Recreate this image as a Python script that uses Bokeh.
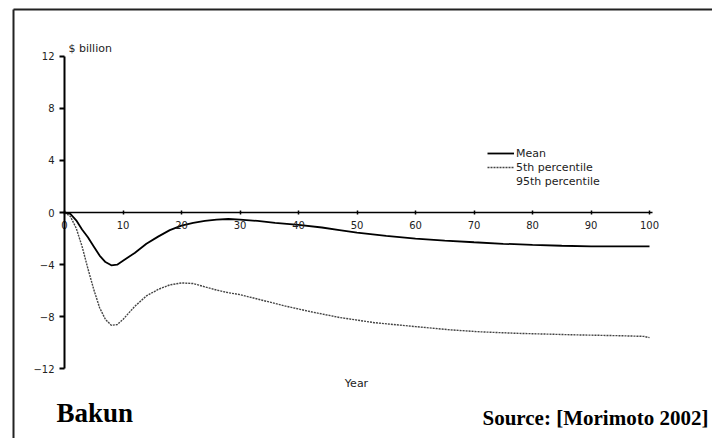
from bokeh.plotting import figure
from bokeh.models import (LinearAxis, FixedTicker, Range1d, Legend, LegendItem)
from bokeh.core.properties import value
from bokeh.embed import file_html
from bokeh.resources import INLINE

# ---- data ----
mean_years = [0, 1, 2, 3, 4, 5, 6, 7, 8, 9, 10, 12, 14, 16, 18, 20, 22, 24, 26, 28,
              30, 33, 36, 40, 44, 47, 50, 55, 60, 65, 70, 75, 80, 85, 90, 95, 100]
mean_vals = [0, -0.1, -0.6, -1.3, -1.9, -2.6, -3.3, -3.8, -4.05, -4.0, -3.7, -3.1,
             -2.4, -1.85, -1.35, -1.0, -0.8, -0.65, -0.55, -0.5, -0.55, -0.65, -0.8,
             -0.95, -1.15, -1.35, -1.55, -1.8, -2.0, -2.15, -2.28, -2.4, -2.48,
             -2.55, -2.6, -2.6, -2.6]
p5_years = [0, 1, 2, 3, 4, 5, 6, 7, 8, 9, 10, 11, 12, 14, 16, 18, 20, 22, 24, 26, 28,
            30, 34, 38, 42, 47, 53, 60, 66, 71, 77, 87, 95, 99, 100]
p5_vals = [0, -0.3, -1.2, -2.6, -4.3, -5.9, -7.3, -8.2, -8.65, -8.6, -8.2, -7.7,
           -7.2, -6.4, -5.9, -5.55, -5.4, -5.45, -5.7, -5.95, -6.15, -6.3, -6.75,
           -7.2, -7.6, -8.05, -8.45, -8.75, -9.0, -9.15, -9.26, -9.38, -9.45,
           -9.5, -9.6]
x_ticks = [0, 10, 20, 30, 40, 50, 60, 70, 80, 90, 100]
y_ticks = [-12, -8, -4, 0, 4, 8, 12]
series_labels = ["Mean", "5th percentile", "95th percentile"]

# ---- layout constants (pixel geometry) ----
W, H = 712, 438
PX_X = 5.85      # px per year
PX_Y = 13.04     # px per $bn
X0_PX = 64       # pixel of year 0
Y0_PX = 212      # pixel of value 0

def dx(px):
    return (px - X0_PX) / PX_X

def dy(py):
    return (Y0_PX - py) / PX_Y

p = figure(width=W, height=H, output_backend="svg", toolbar_location=None,
           x_axis_location=None, y_axis_location=None,
           x_range=Range1d(dx(0), dx(W)), y_range=Range1d(dy(H), dy(0)),
           min_border=0)
p.grid.visible = False
p.outline_line_color = None
p.background_fill_color = "white"
p.border_fill_color = "white"

SANS = "DejaVu Sans"
TXT = "#222"

# axes at the origin
yax = LinearAxis(fixed_location=0, ticker=FixedTicker(ticks=y_ticks), bounds=(-12, 12))
yax.axis_line_width = 2
yax.axis_line_color = "black"
yax.major_tick_out = 5
yax.major_tick_in = 0
yax.major_tick_line_width = 2
yax.minor_tick_line_color = None
yax.major_label_standoff = 5
yax.major_label_text_font = SANS
yax.major_label_text_font_size = "10px"
yax.major_label_text_color = TXT
p.add_layout(yax, "left")

xax = LinearAxis(fixed_location=0, ticker=FixedTicker(ticks=x_ticks), bounds=(0, 100.5))
xax.axis_line_width = 1.6
xax.axis_line_color = "black"
xax.major_tick_out = 2
xax.major_tick_in = 2
xax.major_tick_line_width = 1.5
xax.minor_tick_line_color = None
xax.major_label_standoff = 6
xax.major_label_text_font = SANS
xax.major_label_text_font_size = "10px"
xax.major_label_text_color = TXT
p.add_layout(xax, "below")

# border (top and left)
p.segment(x0=[dx(13), dx(13)], y0=[dy(9), dy(9)], x1=[dx(W), dx(13)], y1=[dy(9), dy(H)],
          line_color="#222", line_width=2)

# series
r_mean = p.line(mean_years, mean_vals, line_color="black", line_width=1.8)
r_p5 = p.line(p5_years, p5_vals, line_color="#444", line_width=1.4, line_dash="2 1")
r_p95 = p.line([], [], line_color="black", line_alpha=0, line_width=1)

legend = Legend(items=[LegendItem(label=series_labels[0], renderers=[r_mean]),
                       LegendItem(label=series_labels[1], renderers=[r_p5]),
                       LegendItem(label=series_labels[2], renderers=[r_p95])],
                location=(487, H - 188), padding=0, margin=0, spacing=0,
                glyph_width=27, glyph_height=14, label_height=14,
                label_standoff=2, label_text_font=SANS,
                label_text_font_size="11px", label_text_color=TXT,
                border_line_color=None, background_fill_alpha=0)
p.add_layout(legend)

# texts
p.text(x=[dx(68)], y=[dy(48)], text=["$ billion"], text_font=value(SANS),
       text_font_size="11px", text_baseline="middle", text_align="left", text_color=TXT)
p.text(x=[dx(356)], y=[dy(383)], text=["Year"], text_font=value(SANS),
       text_font_size="11px", text_baseline="middle", text_align="center", text_color=TXT)
p.text(x=[dx(56)], y=[dy(412)], text=["Bakun"], text_font=value("Liberation Serif"),
       text_font_size="27px", text_font_style="bold", text_baseline="middle",
       text_align="left", text_color="black")
p.text(x=[dx(482)], y=[dy(417)], text=["Source: [Morimoto 2002]"],
       text_font=value("Liberation Serif"), text_font_size="21px",
       text_font_style="bold", text_baseline="middle", text_align="left",
       text_color="black")

open("out.html", "w").write(file_html(p, INLINE))
